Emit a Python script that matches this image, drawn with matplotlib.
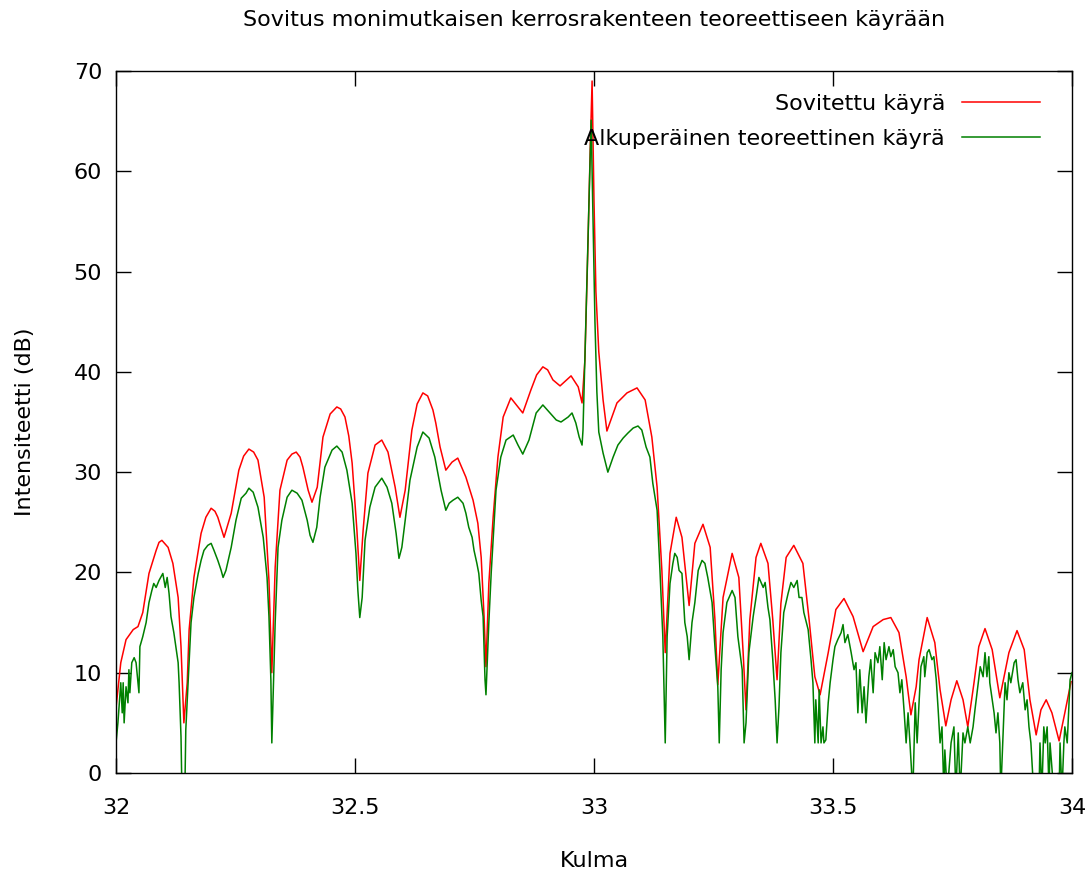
import numpy as np
import matplotlib
matplotlib.use("Agg")
import matplotlib.pyplot as plt

# Sovitettu käyrä (punainen)
fit_angle = [
    32.000, 32.010, 32.021, 32.036, 32.046, 32.056, 32.069, 32.084, 32.090, 32.096,
    32.109, 32.119, 32.130, 32.136, 32.142, 32.149, 32.153, 32.163, 32.178, 32.188,
    32.199, 32.207, 32.213, 32.226, 32.241, 32.257, 32.267, 32.278, 32.288, 32.297,
    32.310, 32.320, 32.326, 32.333, 32.343, 32.358, 32.368, 32.377, 32.385, 32.391,
    32.402, 32.410, 32.421, 32.433, 32.448, 32.462, 32.470, 32.479, 32.487, 32.494,
    32.504, 32.510, 32.517, 32.527, 32.542, 32.556, 32.569, 32.584, 32.594, 32.605,
    32.619, 32.630, 32.642, 32.652, 32.663, 32.669, 32.678, 32.690, 32.703, 32.715,
    32.732, 32.747, 32.757, 32.764, 32.770, 32.774, 32.780, 32.789, 32.799, 32.810,
    32.826, 32.841, 32.851, 32.868, 32.880, 32.893, 32.903, 32.914, 32.929, 32.952,
    32.967, 32.975, 32.981, 32.987, 32.992, 32.996, 33.000, 33.004, 33.010, 33.019,
    33.027, 33.048, 33.069, 33.090, 33.107, 33.121, 33.132, 33.142, 33.149, 33.159,
    33.172, 33.184, 33.199, 33.211, 33.228, 33.243, 33.253, 33.259, 33.270, 33.289,
    33.303, 33.312, 33.318, 33.326, 33.339, 33.349, 33.364, 33.374, 33.383, 33.391,
    33.402, 33.418, 33.437, 33.450, 33.462, 33.473, 33.490, 33.506, 33.523, 33.542,
    33.563, 33.584, 33.605, 33.621, 33.638, 33.653, 33.663, 33.674, 33.680, 33.697,
    33.713, 33.724, 33.736, 33.747, 33.759, 33.772, 33.782, 33.795, 33.805, 33.818,
    33.833, 33.849, 33.868, 33.885, 33.900, 33.912, 33.925, 33.935, 33.946, 33.958,
    33.973, 33.985, 33.998,
]
fit_db = [
    6.5, 11.0, 13.3, 14.3, 14.6, 16.0, 19.9, 22.2, 23.0, 23.2,
    22.5, 20.9, 17.5, 12.6, 5.0, 9.0, 14.3, 19.5, 23.9, 25.5,
    26.4, 26.1, 25.5, 23.5, 25.9, 30.2, 31.6, 32.3, 32.0, 31.2,
    27.5, 19.2, 10.0, 20.5, 28.2, 31.2, 31.8, 32.0, 31.5, 30.5,
    28.2, 27.0, 28.5, 33.5, 35.8, 36.5, 36.3, 35.5, 33.6, 30.9,
    24.2, 19.2, 24.2, 29.9, 32.7, 33.2, 32.0, 28.5, 25.5, 28.2,
    34.2, 36.8, 37.9, 37.6, 36.2, 34.9, 32.5, 30.2, 31.0, 31.4,
    29.5, 27.2, 24.9, 21.5, 15.6, 10.6, 18.9, 25.5, 31.5, 35.5,
    37.4, 36.5, 35.9, 38.2, 39.7, 40.5, 40.2, 39.2, 38.6, 39.6,
    38.5, 36.9, 41.2, 52.0, 62.0, 69.0, 57.0, 48.0, 42.0, 37.2,
    34.1, 36.9, 37.9, 38.4, 37.2, 33.5, 28.5, 20.2, 12.0, 21.9,
    25.5, 23.5, 16.7, 22.9, 24.8, 22.5, 15.3, 8.8, 17.5, 21.9,
    19.5, 12.0, 6.3, 15.3, 21.5, 22.9, 20.9, 15.3, 9.3, 16.9,
    21.5, 22.7, 20.9, 15.3, 9.6, 7.8, 12.0, 16.3, 17.4, 15.6,
    12.1, 14.6, 15.3, 15.5, 14.0, 9.6, 5.8, 8.6, 11.3, 15.5,
    13.0, 8.3, 4.7, 7.3, 9.2, 7.3, 4.6, 9.0, 12.6, 14.4,
    12.3, 7.5, 12.0, 14.2, 12.3, 7.3, 3.8, 6.3, 7.3, 6.0,
    3.2, 6.0, 9.1,
]

# Alkuperäinen teoreettinen käyrä (vihreä)
orig_angle = [
    32.000, 32.004, 32.010, 32.013, 32.015, 32.017, 32.021, 32.025, 32.027, 32.029,
    32.033, 32.038, 32.042, 32.048, 32.050, 32.056, 32.063, 32.069, 32.075, 32.079,
    32.084, 32.090, 32.098, 32.103, 32.107, 32.111, 32.115, 32.121, 32.130, 32.132,
    32.136, 32.138, 32.144, 32.146, 32.153, 32.157, 32.163, 32.172, 32.178, 32.184,
    32.192, 32.199, 32.205, 32.213, 32.220, 32.224, 32.230, 32.241, 32.251, 32.262,
    32.272, 32.278, 32.287, 32.297, 32.308, 32.316, 32.320, 32.324, 32.326, 32.333,
    32.339, 32.347, 32.358, 32.368, 32.379, 32.389, 32.400, 32.406, 32.412, 32.420,
    32.427, 32.437, 32.452, 32.462, 32.473, 32.483, 32.494, 32.502, 32.506, 32.510,
    32.515, 32.521, 32.531, 32.542, 32.556, 32.567, 32.577, 32.586, 32.592, 32.598,
    32.605, 32.615, 32.630, 32.642, 32.655, 32.667, 32.680, 32.690, 32.697, 32.705,
    32.715, 32.726, 32.732, 32.738, 32.745, 32.749, 32.755, 32.759, 32.764, 32.768,
    32.772, 32.774, 32.780, 32.785, 32.795, 32.805, 32.816, 32.831, 32.841, 32.851,
    32.864, 32.879, 32.893, 32.906, 32.921, 32.931, 32.946, 32.954, 32.962, 32.969,
    32.975, 32.977, 32.983, 32.990, 32.994, 32.998, 33.002, 33.006, 33.010, 33.019,
    33.029, 33.040, 33.050, 33.061, 33.071, 33.082, 33.092, 33.100, 33.109, 33.117,
    33.123, 33.132, 33.138, 33.144, 33.149, 33.153, 33.159, 33.165, 33.169, 33.174,
    33.178, 33.184, 33.190, 33.195, 33.199, 33.205, 33.211, 33.218, 33.226, 33.232,
    33.238, 33.247, 33.253, 33.259, 33.262, 33.266, 33.270, 33.278, 33.289, 33.295,
    33.301, 33.310, 33.314, 33.318, 33.324, 33.333, 33.339, 33.345, 33.354, 33.358,
    33.364, 33.368, 33.374, 33.379, 33.383, 33.387, 33.391, 33.397, 33.406, 33.412,
    33.418, 33.425, 33.429, 33.435, 33.439, 33.448, 33.454, 33.458, 33.462, 33.464,
    33.469, 33.471, 33.475, 33.479, 33.481, 33.485, 33.490, 33.494, 33.500, 33.504,
    33.510, 33.517, 33.521, 33.525, 33.531, 33.538, 33.544, 33.548, 33.552, 33.556,
    33.561, 33.565, 33.569, 33.575, 33.579, 33.584, 33.588, 33.594, 33.598, 33.603,
    33.607, 33.611, 33.617, 33.621, 33.626, 33.630, 33.636, 33.640, 33.644, 33.649,
    33.653, 33.657, 33.661, 33.667, 33.672, 33.676, 33.680, 33.684, 33.690, 33.692,
    33.697, 33.701, 33.707, 33.711, 33.716, 33.720, 33.724, 33.728, 33.732, 33.734,
    33.739, 33.747, 33.753, 33.757, 33.762, 33.766, 33.772, 33.776, 33.782, 33.787,
    33.793, 33.797, 33.803, 33.808, 33.814, 33.818, 33.822, 33.826, 33.828, 33.833,
    33.837, 33.841, 33.845, 33.849, 33.851, 33.858, 33.860, 33.864, 33.868, 33.872,
    33.879, 33.883, 33.887, 33.891, 33.897, 33.902, 33.906, 33.910, 33.914, 33.920,
    33.931, 33.933, 33.937, 33.941, 33.944, 33.948, 33.952, 33.954, 33.962, 33.973,
    33.975, 33.979, 33.983, 33.985, 33.990, 33.994, 33.996, 34.000,
]
orig_db = [
    3.0, 5.0, 9.0, 6.0, 9.0, 5.0, 8.6, 7.0, 10.3, 8.0,
    11.0, 11.5, 11.0, 8.0, 12.6, 13.6, 15.0, 17.0, 18.2, 18.9,
    18.5, 19.2, 19.9, 18.5, 19.5, 17.9, 15.6, 14.0, 11.0, 9.0,
    3.6, -2.0, -2.0, 4.3, 11.0, 15.0, 17.5, 19.9, 21.2, 22.2,
    22.7, 22.9, 22.2, 21.2, 20.2, 19.5, 20.2, 22.5, 25.2, 27.4,
    27.9, 28.4, 28.0, 26.5, 23.5, 19.5, 15.6, 9.3, 3.0, 15.0,
    22.5, 25.2, 27.5, 28.2, 27.9, 27.2, 25.2, 23.7, 23.0, 24.5,
    27.5, 30.5, 32.2, 32.6, 32.0, 30.2, 26.9, 21.9, 18.2, 15.5,
    17.5, 23.2, 26.5, 28.5, 29.4, 28.5, 26.9, 23.9, 21.4, 22.5,
    25.2, 29.2, 32.5, 34.0, 33.4, 31.5, 28.2, 26.2, 26.9, 27.2,
    27.5, 26.9, 25.9, 24.5, 23.5, 22.2, 20.9, 19.9, 17.2, 15.6,
    9.3, 7.8, 15.0, 20.0, 28.2, 31.5, 33.2, 33.7, 32.7, 31.8,
    33.2, 35.9, 36.7, 36.0, 35.2, 35.0, 35.5, 35.9, 34.9, 33.5,
    32.7, 34.2, 45.0, 58.0, 65.1, 55.0, 45.0, 38.0, 34.0, 31.9,
    30.0, 31.5, 32.7, 33.4, 33.9, 34.4, 34.6, 34.2, 32.5, 31.5,
    28.9, 26.2, 20.2, 13.6, 3.0, 13.6, 18.9, 20.9, 21.9, 21.5,
    20.2, 19.9, 15.0, 13.6, 11.3, 15.0, 17.0, 20.2, 21.2, 20.9,
    19.5, 17.0, 12.6, 8.6, 3.0, 10.3, 14.0, 17.0, 18.2, 17.5,
    13.6, 10.3, 3.0, 5.0, 12.0, 15.6, 17.5, 19.5, 18.5, 19.0,
    16.5, 15.3, 11.3, 7.3, 3.0, 6.6, 12.0, 16.0, 17.9, 19.0,
    18.5, 19.2, 17.5, 17.5, 16.0, 14.3, 11.3, 9.0, 3.0, 7.3,
    3.0, 8.3, 3.0, 4.6, 3.0, 3.3, 7.0, 9.0, 11.3, 12.6,
    13.3, 14.0, 14.8, 13.0, 13.8, 12.0, 10.3, 11.0, 6.0, 10.3,
    6.0, 8.6, 5.0, 9.6, 11.3, 8.0, 12.0, 11.0, 12.6, 9.3,
    13.0, 11.3, 12.6, 11.6, 12.3, 10.6, 10.0, 8.0, 9.3, 6.0,
    3.0, 6.0, 3.0, -2.0, 7.0, 3.0, 7.0, 10.6, 11.6, 9.6,
    12.0, 12.3, 11.3, 11.6, 9.3, 6.3, 3.0, 4.6, -2.0, 2.3,
    -2.0, 3.0, 4.6, -2.0, 4.0, -2.0, 4.0, 3.0, 4.6, 3.0,
    4.6, 6.3, 8.6, 10.6, 9.6, 12.0, 9.6, 11.6, 9.0, 7.3,
    6.0, 4.0, 6.0, 3.0, -2.0, 6.6, 9.0, 7.3, 10.0, 9.0,
    11.0, 11.3, 9.3, 8.0, 9.0, 6.3, 7.3, 4.6, 3.0, -2.0,
    -2.0, 3.0, -2.0, 4.6, 3.0, 4.6, -2.0, 3.0, -2.0, -2.0,
    3.0, -2.0, 3.0, 4.6, 3.0, 7.3, 9.3, 10.0,
]

x_ticks = [32, 32.5, 33, 33.5, 34]
x_tick_labels = ["32", "32.5", "33", "33.5", "34"]
y_ticks = [0, 10, 20, 30, 40, 50, 60, 70]

plt.rcParams['font.family'] = ['DejaVu Sans']
fs = 16

fig = plt.figure(figsize=(10.91, 8.71), dpi=100)
ax = fig.add_axes([116 / 1091, 1 - 773 / 871, 956 / 1091, 702 / 871])

ax.plot(fit_angle, fit_db, color='#ff0000', lw=1.1, label='Sovitettu käyrä')
ax.plot(orig_angle, orig_db, color='#008000', lw=1.1, label='Alkuperäinen teoreettinen käyrä')

ax.set_xlim(32, 34)
ax.set_ylim(0, 70)
ax.set_xticks(x_ticks)
ax.set_xticklabels(x_tick_labels)
ax.set_yticks(y_ticks)
ax.tick_params(direction='in', length=11, width=1.0, top=True, right=True,
               labelsize=fs, color='black')
ax.tick_params(axis='x', pad=18)
ax.tick_params(axis='y', pad=10)
for s in ax.spines.values():
    s.set_linewidth(1.0)

ax.set_xlabel('Kulma', fontsize=fs, labelpad=24)
ax.set_ylabel('Intensiteetti (dB)', fontsize=fs, labelpad=28)
fig.text(594 / 1091, 1 - 20 / 871, 'Sovitus monimutkaisen kerrosrakenteen teoreettiseen käyrään',
         ha='center', va='center', fontsize=fs)

ax.legend(loc='upper right', bbox_to_anchor=((1040 - 116) / 956, (773 - 94) / 702),
          frameon=False, markerfirst=False, fontsize=fs, handlelength=3.5,
          handletextpad=0.77, labelspacing=0.68, borderpad=0, borderaxespad=0)

fig.savefig('out.png', dpi=100)
